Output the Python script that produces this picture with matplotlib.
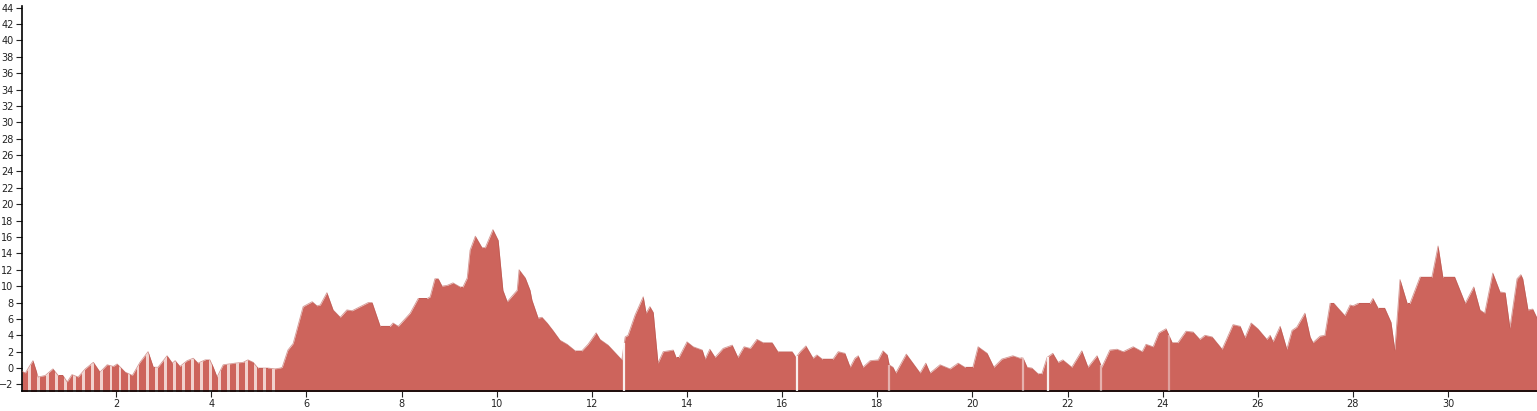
import numpy as np
import matplotlib
matplotlib.use('Agg')
import matplotlib.pyplot as plt
from matplotlib.path import Path

# profile (distance in km, elevation in m)
dist_km = [0.02, 0.09, 0.25, 0.36, 0.51, 0.67, 0.78, 0.88, 0.97, 1.07, 1.20, 1.35, 1.52, 1.66,
           1.81, 1.94, 2.02, 2.19, 2.34, 2.50, 2.67, 2.78, 2.88, 3.07, 3.18, 3.24, 3.34, 3.49,
           3.62, 3.72, 3.87, 3.97, 4.04, 4.12, 4.25, 4.50, 4.67, 4.77, 4.88, 4.98, 5.19, 5.34,
           5.45, 5.49, 5.61, 5.72, 5.93, 6.12, 6.22, 6.29, 6.43, 6.56, 6.71, 6.85, 6.96, 7.13,
           7.30, 7.38, 7.55, 7.76, 7.82, 7.93, 8.18, 8.35, 8.54, 8.60, 8.70, 8.77, 8.85, 8.96,
           9.08, 9.23, 9.29, 9.38, 9.44, 9.55, 9.69, 9.76, 9.92, 10.03, 10.13, 10.22, 10.43,
           10.47, 10.60, 10.70, 10.74, 10.87, 10.95, 11.06, 11.18, 11.33, 11.48, 11.65, 11.79,
           11.92, 12.09, 12.17, 12.34, 12.55, 12.63, 12.70, 12.76, 12.91, 13.08, 13.14, 13.22,
           13.29, 13.39, 13.50, 13.60, 13.71, 13.77, 13.83, 14.00, 14.13, 14.32, 14.38, 14.48,
           14.59, 14.76, 14.95, 15.07, 15.20, 15.33, 15.47, 15.60, 15.79, 15.91, 16.06, 16.21,
           16.29, 16.38, 16.50, 16.65, 16.73, 16.84, 17.07, 17.18, 17.32, 17.43, 17.53, 17.60,
           17.70, 17.85, 18.02, 18.12, 18.21, 18.25, 18.33, 18.39, 18.61, 18.75, 18.90, 19.02,
           19.11, 19.32, 19.53, 19.70, 19.84, 20.01, 20.12, 20.31, 20.45, 20.62, 20.85, 21.00,
           21.06, 21.15, 21.25, 21.38, 21.46, 21.57, 21.69, 21.80, 21.90, 22.09, 22.30, 22.43,
           22.62, 22.72, 22.89, 23.04, 23.17, 23.38, 23.57, 23.65, 23.80, 23.92, 24.07, 24.20,
           24.32, 24.49, 24.64, 24.78, 24.89, 25.04, 25.25, 25.48, 25.63, 25.73, 25.86, 26.00,
           26.19, 26.26, 26.32, 26.47, 26.61, 26.72, 26.82, 26.99, 27.10, 27.16, 27.31, 27.41,
           27.52, 27.60, 27.69, 27.83, 27.94, 28.00, 28.11, 28.36, 28.42, 28.53, 28.67, 28.80,
           28.88, 28.99, 29.14, 29.20, 29.41, 29.66, 29.79, 29.89, 30.14, 30.36, 30.54, 30.67,
           30.77, 30.94, 31.09, 31.20, 31.30, 31.45, 31.53, 31.57, 31.68, 31.78, 31.87]
elev_m = [-0.4, -0.6, 0.9, -1.1, -0.9, -0.1, -0.9, -0.9, -1.7, -0.8, -1.1, -0.1, 0.7, -0.5,
          0.4, 0.2, 0.5, -0.5, -0.9, 0.7, 2.0, 0.1, 0.1, 1.5, 0.6, 0.9, 0.2, 0.9,
          1.2, 0.6, 1.0, 1.0, 0.1, -1.1, 0.4, 0.6, 0.7, 1.0, 0.7, 0.0, 0.0, -0.1,
          0.0, 0.1, 2.2, 3.0, 7.5, 8.1, 7.6, 7.7, 9.2, 7.1, 6.2, 7.1, 7.0, 7.5,
          8.0, 8.0, 5.1, 5.1, 5.5, 5.1, 6.7, 8.5, 8.5, 8.7, 10.9, 10.9, 10.0, 10.1,
          10.4, 9.9, 9.9, 11.0, 14.4, 16.1, 14.7, 14.7, 16.9, 15.6, 9.5, 8.1, 9.5,
          12.0, 11.0, 9.5, 8.3, 6.1, 6.2, 5.5, 4.6, 3.4, 2.9, 2.1, 2.1,
          2.9, 4.3, 3.5, 2.8, 1.5, 1.0, 3.8, 4.0, 6.5, 8.7, 6.7, 7.5,
          6.8, 0.6, 2.0, 2.1, 2.2, 1.3, 1.3, 3.2, 2.6, 2.2, 1.1, 2.3,
          1.3, 2.4, 2.8, 1.3, 2.6, 2.4, 3.5, 3.1, 3.1, 2.0, 2.0, 2.0,
          1.3, 2.0, 2.7, 1.2, 1.6, 1.1, 1.1, 2.0, 1.8, 0.1, 1.2, 1.5,
          0.1, 0.9, 1.0, 2.1, 1.6, 0.4, 0.1, -0.6, 1.7, 0.6, -0.6, 0.6,
          -0.6, 0.4, -0.1, 0.6, 0.1, 0.1, 2.6, 1.8, 0.1, 1.1, 1.5, 1.2,
          1.3, 0.1, 0.0, -0.7, -0.7, 1.3, 1.8, 0.7, 1.0, 0.1, 2.1, 0.1,
          1.5, 0.1, 2.2, 2.3, 2.0, 2.6, 2.0, 2.9, 2.6, 4.3, 4.8, 3.1,
          3.1, 4.5, 4.4, 3.5, 4.0, 3.8, 2.3, 5.3, 5.1, 3.7, 5.5, 4.8,
          3.5, 4.0, 3.2, 5.1, 2.3, 4.6, 5.0, 6.7, 3.8, 3.1, 3.9, 4.0,
          7.9, 7.9, 7.3, 6.4, 7.7, 7.6, 7.9, 7.9, 8.5, 7.3, 7.3, 5.6,
          2.2, 10.8, 7.9, 7.9, 11.1, 11.1, 14.9, 11.1, 11.1, 7.9, 9.9, 7.1,
          6.7, 11.6, 9.3, 9.2, 4.9, 10.9, 11.4, 10.9, 7.1, 7.2, 6.1]

# breaks in the track (thin light lines)
gap_km = [12.68, 16.31, 18.25, 21.06, 21.59, 22.70, 24.13]
gap_alpha = [0.9, 0.9, 0.5, 0.5, 0.9, 0.5, 0.4]

# striped first section
striped_end_km = 5.45

x_ticks = list(range(2, 32, 2))
y_ticks = list(range(-2, 46, 2))
y_min, y_max = -2.8, 44.2

fill_color = '#cd645c'
pale_color = '#f2d2ce'

fig = plt.figure(figsize=(15.37, 4.11), dpi=100)
ax = fig.add_axes([22 / 1537, 20 / 411, 1 - 22 / 1537, (391 - 6) / 411])

d = np.array(dist_km)
e = np.array(elev_m)

# pale background under the striped section
mask = d <= striped_end_km + 0.05
ax.fill_between(d[mask], y_min, e[mask], color=pale_color, lw=0, zorder=1)

# main area, clipped to stripes for the first section
area = ax.fill_between(d, y_min, e, color=fill_color, lw=0, zorder=2)
period, red_w = 0.19, 0.13
verts, codes = [], []
starts = np.arange(d[0], striped_end_km, period)
rects = [(s, min(s + red_w, striped_end_km)) for s in starts]
rects.append((striped_end_km, d[-1] + 1))
for x0, x1 in rects:
    verts += [(x0, y_min - 5), (x1, y_min - 5), (x1, y_max), (x0, y_max), (x0, y_min - 5)]
    codes += [Path.MOVETO, Path.LINETO, Path.LINETO, Path.LINETO, Path.CLOSEPOLY]
clip = Path(verts, codes)
area.set_clip_path(clip, transform=ax.transData)

ax.plot(d, e, color='#b8544d', lw=0.6, alpha=0.6, zorder=3)

for gx, ga in zip(gap_km, gap_alpha):
    ax.vlines(gx, y_min, np.interp(gx, d, e), color='white', lw=1.6, alpha=ga, zorder=4)

ax.set_xlim(d[0], d[-1])
ax.set_ylim(y_min, y_max)
ax.set_xticks(x_ticks)
ax.set_yticks(y_ticks)
ax.tick_params(labelsize=7, length=4, width=0.8, pad=2, colors='#222222')
for s in ['top', 'right']:
    ax.spines[s].set_visible(False)
for s in ['left', 'bottom']:
    ax.spines[s].set_linewidth(1.2)
    ax.spines[s].set_color('black')

fig.savefig('out.png', dpi=100)
